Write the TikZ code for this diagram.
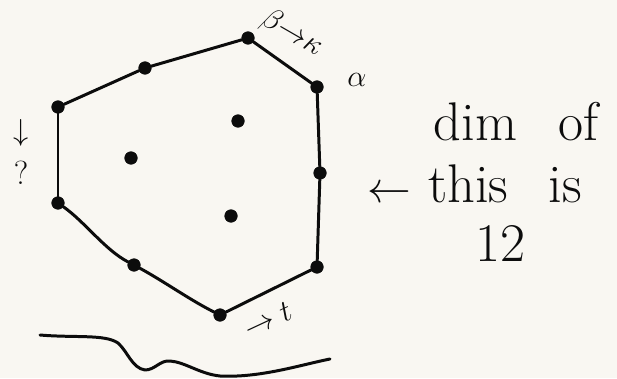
\documentclass[tikz,border=0pt]{standalone}
\usepackage{amsmath}
\usepackage{amssymb}
\usepackage{xcolor}
\usepackage{tikz}
\usetikzlibrary{positioning}
\definecolor{inkblack}{RGB}{12, 12, 12}
\definecolor{paper}{RGB}{249, 247, 242}
\tikzset{
  vertex/.style={circle, fill=inkblack, draw=inkblack, inner sep=0pt,
    minimum size=0.25cm},
  edge/.style={draw=inkblack, line width=1.7pt, line cap=round,
    line join=round},
  scrawl/.style={font=\fontsize{31}{34}\selectfont, text=inkblack,
    inner sep=1pt},
  tag/.style={font=\fontsize{19}{21}\selectfont, text=inkblack,
    inner sep=0pt}
}

\begin{document}
\begin{tikzpicture}[x=0.02cm, y=-0.02cm]
\useasboundingbox (0,0) rectangle (617,378);
\fill[paper] (0,0) rectangle (617,378);

% hexagon corners and the points on its sides
\node (top)  [vertex] at (248,38)  {};
\node (rtop) [vertex] at (317,87)  {};
\node (rmid) [vertex] at (320,173) {};
\node (rbot) [vertex] at (317,267) {};
\node (bot)  [vertex] at (220,315) {};
\node (lbot) [vertex] at (58,203)  {};
\node (ltop) [vertex] at (58,107)  {};
\node (tmid) [vertex] at (145,68)  {};
\node (bmid) [vertex] at (134,265) {};

% inner points
\node (in1) [vertex] at (238,121) {};
\node (in2) [vertex] at (131,158) {};
\node (in3) [vertex] at (231,216) {};

\draw[edge] (ltop) -- (tmid) -- (top) -- (rtop) -- (rmid) -- (rbot) -- (bot);
\draw[edge] (ltop) -- (lbot);
\draw[edge] (lbot) .. controls (85,222) and (105,250) .. (bmid)
                   .. controls (165,282) and (190,300) .. (bot);

% labels on the corners
\node (toplbl) [tag, font=\fontsize{17}{19}\selectfont, rotate=-30]
      at (292,33) {$\beta{\to}\kappa$};
\node (alpha)  [tag] at (357,80) {$\alpha$};
\node (leftlbl) [tag, align=center] at (21,152) {$\downarrow$\\[4pt]?};
\node (botlbl) [tag, rotate=25] at (268,320) {$\to t$};

% note
\node (dimof)  [scrawl] at (516,122) {dim\;\, of};
\node (thisis) [scrawl] at (475,184) {$\leftarrow$ this\;\, is};
\node (twelve) [scrawl] at (500,243) {12};

\draw[edge] (40,335) .. controls (75,338) and (105,334) .. (118,343)
            .. controls (128,352) and (132,368) .. (145,370)
            .. controls (155,370) and (160,360) .. (170,361)
            .. controls (185,362) and (200,374) .. (220,376)
            .. controls (260,378) and (300,365) .. (330,359);
\end{tikzpicture}
\end{document}
